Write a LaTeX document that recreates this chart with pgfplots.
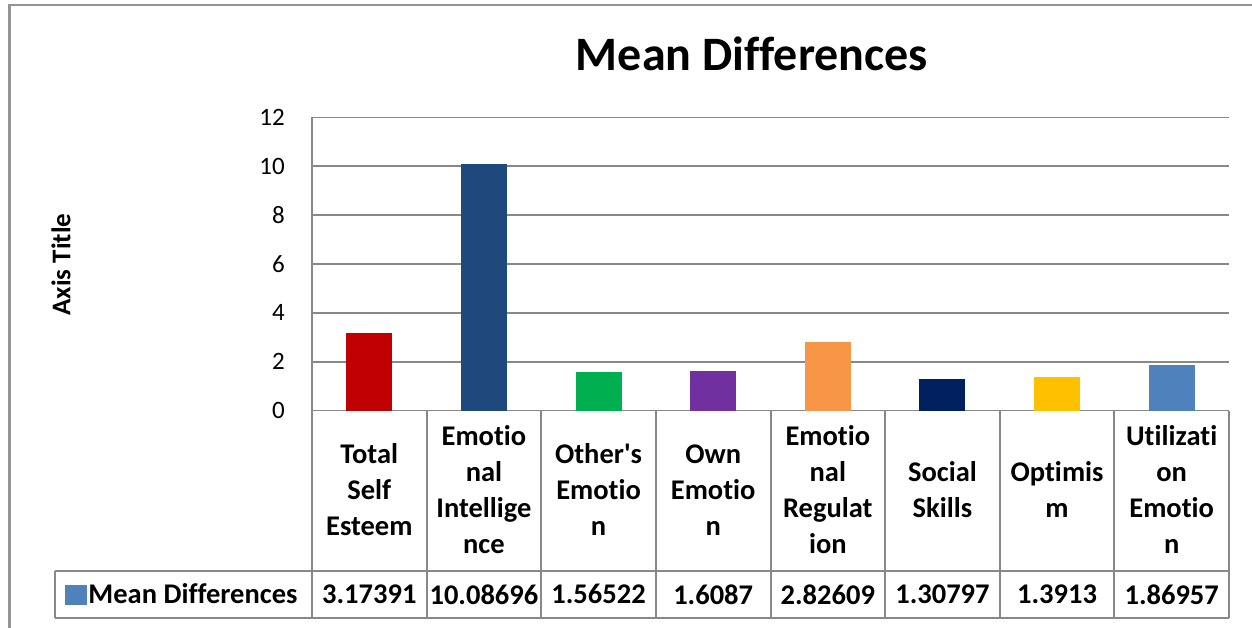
\documentclass[border=0pt]{standalone}
\usepackage{fontspec}
\setmainfont{Carlito}[Ligatures={TeXOff,CommonOff}]
\usepackage{pgfplots}
\pgfplotsset{compat=1.18}
\definecolor{cRed}{HTML}{C00000}
\definecolor{cDBlue}{HTML}{1F497D}
\definecolor{cGreen}{HTML}{00B050}
\definecolor{cPurple}{HTML}{7030A0}
\definecolor{cOrange}{HTML}{F79646}
\definecolor{cNavy}{HTML}{002060}
\definecolor{cGold}{HTML}{FFC000}
\definecolor{cLBlue}{HTML}{4F81BD}
\definecolor{gridgray}{HTML}{888888}
\begin{document}
\begin{tikzpicture}
\path[use as bounding box] (0,0) rectangle (1252pt,628pt);
\draw[gridgray!90, line width=2.5pt] (9.5pt,0) -- (9.5pt,623pt) -- (1252pt,623pt);
\begin{axis}[
  at={(312pt,217.3pt)}, anchor=south west,
  scale only axis, width=917pt, height=293.4pt,
  xmin=-0.5, xmax=7.5, ymin=0, ymax=12,
  ytick={0,2,...,12},
  xtick={0,...,7},
  xticklabels={{Total\\Self\\Esteem},{Emotio\\nal\\Intellige\\nce},{Other's\\Emotio\\n},{Own\\Emotio\\n},{Emotio\\nal\\Regulat\\ion},{Social\\Skills},{Optimis\\m},{Utilizati\\on\\Emotio\\n}},
  xticklabel style={align=center, anchor=center, yshift=-79.3pt, font=\fontsize{28.5}{36}\selectfont\bfseries},
  yticklabel style={anchor=east, inner sep=0pt, xshift=-27pt, font=\fontsize{25}{30}\selectfont},
  /pgf/number format/assume math mode=true,
  major tick length=0pt,
  axis x line*=bottom, axis y line*=left,
  every outer x axis line/.append style={-},
  every outer y axis line/.append style={-},
  axis line style={gridgray, line width=1.5pt, -},
  ymajorgrids, major grid style={gridgray, line width=1.5pt},
  clip=false,
  title={Mean Differences},
  title style={at={(axis description cs:0.4798,1.1622)}, anchor=base, yshift=-7pt, font=\fontsize{48}{58}\selectfont\bfseries},
  ylabel={Axis Title},
  ylabel style={at={(axis description cs:-0.2737,0.498)}, anchor=center, font=\fontsize{27}{32}\selectfont\bfseries},
  legend style={at={(axis cs:-2.743,-7.51)}, anchor=west, xshift=10pt, draw=none, fill=none, inner sep=0pt,
    font=\fontsize{28.5}{34}\selectfont\bfseries},
]
\addplot[ybar, bar width=46pt, bar shift=0pt, fill=cRed, draw=none, forget plot] coordinates {(0,3.17391)};
\addplot[ybar, bar width=46pt, bar shift=0pt, fill=cDBlue, draw=none, forget plot] coordinates {(1,10.08696)};
\addplot[ybar, bar width=46pt, bar shift=0pt, fill=cGreen, draw=none, forget plot] coordinates {(2,1.56522)};
\addplot[ybar, bar width=46pt, bar shift=0pt, fill=cPurple, draw=none, forget plot] coordinates {(3,1.6087)};
\addplot[ybar, bar width=46pt, bar shift=0pt, fill=cOrange, draw=none, forget plot] coordinates {(4,2.82609)};
\addplot[ybar, bar width=46pt, bar shift=0pt, fill=cNavy, draw=none, forget plot] coordinates {(5,1.30797)};
\addplot[ybar, bar width=46pt, bar shift=0pt, fill=cGold, draw=none, forget plot] coordinates {(6,1.3913)};
\addplot[ybar, bar width=46pt, bar shift=0pt, fill=cLBlue, draw=none, forget plot] coordinates {(7,1.86957)};
% values row of the data table
\addplot[only marks, mark=none, forget plot, nodes near coords, point meta=explicit symbolic,
  nodes near coords style={anchor=center, font=\fontsize{28.5}{34}\selectfont\bfseries}]
  coordinates {(0,-7.51)[3.17391] (1,-7.51)[10.08696] (2,-7.51)[1.56522] (3,-7.51)[1.6087]
               (4,-7.51)[2.82609] (5,-7.51)[1.30797] (6,-7.51)[1.3913] (7,-7.51)[1.86957]};
% data table grid
\draw[gridgray, line width=2pt] (axis cs:-0.5,0) -- (axis cs:-0.5,-8.48);
\draw[gridgray, line width=2pt] (axis cs:0.5,0) -- (axis cs:0.5,-8.48);
\draw[gridgray, line width=2pt] (axis cs:1.5,0) -- (axis cs:1.5,-8.48);
\draw[gridgray, line width=2pt] (axis cs:2.5,0) -- (axis cs:2.5,-8.48);
\draw[gridgray, line width=2pt] (axis cs:3.5,0) -- (axis cs:3.5,-8.48);
\draw[gridgray, line width=2pt] (axis cs:4.5,0) -- (axis cs:4.5,-8.48);
\draw[gridgray, line width=2pt] (axis cs:5.5,0) -- (axis cs:5.5,-8.48);
\draw[gridgray, line width=2pt] (axis cs:6.5,0) -- (axis cs:6.5,-8.48);
\draw[gridgray, line width=2pt] (axis cs:7.5,0) -- (axis cs:7.5,-8.48);
\draw[gridgray, line width=2pt] (axis cs:-2.743,-6.54) -- (axis cs:7.5,-6.54);
\draw[gridgray, line width=2pt] (axis cs:-2.743,-8.48) -- (axis cs:7.5,-8.48);
\draw[gridgray, line width=2pt] (axis cs:-2.743,-6.54) -- (axis cs:-2.743,-8.48);
\addlegendimage{legend image code/.code={\fill[cLBlue] (0pt,-9.5pt) rectangle (21pt,9.5pt);}}
\addlegendentry{Mean Differences}
\end{axis}
\end{tikzpicture}
\end{document}
